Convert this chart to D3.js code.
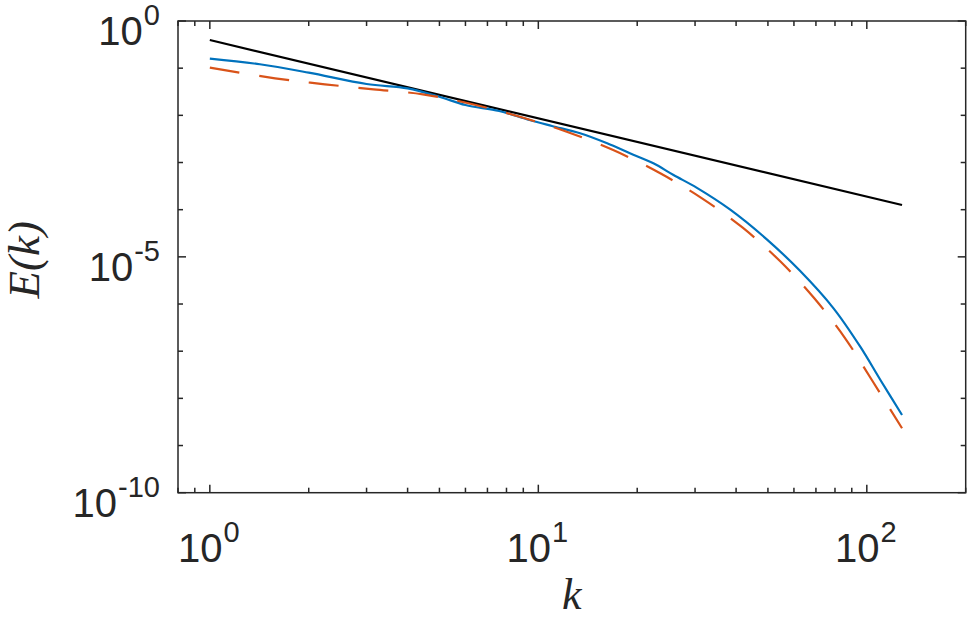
<!DOCTYPE html>
<html>
<head>
<meta charset="utf-8">
<script src="https://cdn.jsdelivr.net/npm/d3@7"></script>
<style>
  html, body { margin: 0; padding: 0; background: #fff; }
  svg { display: block; }
</style>
</head>
<body>
<svg id="chart" width="968" height="619"></svg>
<script>
// ---- data ----
const kRef = [1, 128];
const ERef = [0.395, 1.26e-4];

const kBlue = [1, 1.42, 2, 3, 4, 5, 6, 7.6, 9.4, 11, 13.4, 16.2, 19, 22.4, 25.8, 30.4, 38.4, 49.6, 62.7, 79.2, 95.5, 110, 128];
const EBlue = [0.159, 0.121, 0.0802, 0.0461, 0.0374, 0.0248, 0.01656, 0.01236, 0.00796, 0.00594, 0.00416, 0.00255, 0.00157, 9.6e-4, 5.43e-4, 2.9e-4, 1.0e-4, 2.35e-5, 5.0e-6, 8.11e-7, 1.245e-7, 2.45e-8, 4.44e-9];

const kRed = [1, 1.58, 2.24, 3.15, 4.45, 6.27, 9.64, 12.2, 16.9, 23.5, 31.5, 41.9, 54.5, 69.1, 85.5, 103.6, 128];
const ERed = [0.1023, 0.0610, 0.0455, 0.0356, 0.0279, 0.01738, 0.00769, 0.00450, 0.00184, 5.90e-4, 1.74e-4, 4.15e-5, 8.04e-6, 1.34e-6, 1.97e-7, 2.45e-8, 2.32e-9];

const xDomain = [0.8, 200];
const yDomain = [1e-10, 1];
const xMajorTicks = [1, 10, 100];
const xMajorLabels = ["0", "1", "2"];
const yMajorTicks = [1, 1e-5, 1e-10];
const yMajorLabels = ["0", "-5", "-10"];
const xLabel = "k";
const yLabel = "E(k)";

// ---- layout ----
const L = 178, T = 21, R = 965.7, B = 492.7;
const axisColor = "#262626";
const svg = d3.select("#chart");

const x = d3.scaleLog().domain(xDomain).range([L, R]);
const y = d3.scaleLog().domain(yDomain).range([B, T]);

const plot = svg.append("g");
plot.append("defs").append("clipPath").attr("id", "clip")
  .append("rect").attr("x", L).attr("y", T).attr("width", R - L).attr("height", B - T);

const line = d3.line().x(d => x(d[0])).y(d => y(d[1])).curve(d3.curveCatmullRom.alpha(0.5));

const lines = plot.append("g").attr("clip-path", "url(#clip)");
lines.append("path")
  .attr("d", line(kRef.map((k, i) => [k, ERef[i]])))
  .attr("fill", "none").attr("stroke", "#000").attr("stroke-width", 2.2);
lines.append("path")
  .attr("d", line(kBlue.map((k, i) => [k, EBlue[i]])))
  .attr("fill", "none").attr("stroke", "#0072BD").attr("stroke-width", 2.2)
  .attr("stroke-linejoin", "round");
lines.append("path")
  .attr("d", line(kRed.map((k, i) => [k, ERed[i]])))
  .attr("fill", "none").attr("stroke", "#D95319").attr("stroke-width", 2.2)
  .attr("stroke-dasharray", "30,20");

// ---- ticks (inward, mirrored on box) ----
const axes = svg.append("g").attr("stroke", axisColor).attr("stroke-width", 1.5);
const xMinor = [];
[0.1, 1, 10, 100].forEach(dec => { for (let m = 1; m <= 9; m++) { const v = dec * m; if (v >= xDomain[0] && v <= xDomain[1] && !xMajorTicks.includes(v)) xMinor.push(v); } });
const yMinor = [];
for (let e = -10; e <= 0; e++) { const v = Math.pow(10, e); if (!yMajorTicks.some(t => Math.abs(Math.log10(t) - e) < 1e-9)) yMinor.push(v); }

function xTick(v, len) {
  const px = x(v);
  axes.append("line").attr("x1", px).attr("x2", px).attr("y1", B).attr("y2", B - len);
  axes.append("line").attr("x1", px).attr("x2", px).attr("y1", T).attr("y2", T + len);
}
function yTick(v, len) {
  const py = y(v);
  axes.append("line").attr("x1", L).attr("x2", L + len).attr("y1", py).attr("y2", py);
  axes.append("line").attr("x1", R).attr("x2", R - len).attr("y1", py).attr("y2", py);
}
xMinor.forEach(v => xTick(v, 5));
xMajorTicks.forEach(v => xTick(v, 8));
yMinor.forEach(v => yTick(v, 5));
yMajorTicks.forEach(v => yTick(v, 8));

axes.append("rect").attr("x", L).attr("y", T).attr("width", R - L).attr("height", B - T)
  .attr("fill", "none");

// ---- tick labels ----
const font = "'Liberation Sans', Arial, Helvetica, sans-serif";
function powLabel(g, px, py, exp, anchor) {
  const t = g.append("text").attr("x", px).attr("y", py)
    .attr("text-anchor", anchor).attr("font-family", font).attr("fill", axisColor);
  t.append("tspan").attr("font-size", 40).text("10");
  t.append("tspan").attr("font-size", 29).attr("dy", -20).attr("dx", 1).text(exp);
}
const labels = svg.append("g");
xMajorTicks.forEach((v, i) => powLabel(labels, x(v) - 1, 562, xMajorLabels[i], "middle"));
yMajorTicks.forEach((v, i) => powLabel(labels, 160, y(v) + 24, yMajorLabels[i], "end"));

// ---- axis titles ----
const serif = "'Liberation Serif', 'Times New Roman', serif";
svg.append("text").attr("x", (L + R) / 2).attr("y", 609)
  .attr("text-anchor", "middle").attr("font-family", serif).attr("font-style", "italic")
  .attr("font-size", 44).attr("fill", axisColor).text(xLabel);
svg.append("text").attr("transform", `translate(39, ${(T + B) / 2 + 3}) rotate(-90)`)
  .attr("text-anchor", "middle").attr("font-family", serif).attr("font-style", "italic")
  .attr("font-size", 45).attr("fill", axisColor).text(yLabel);
</script>
</body>
</html>
